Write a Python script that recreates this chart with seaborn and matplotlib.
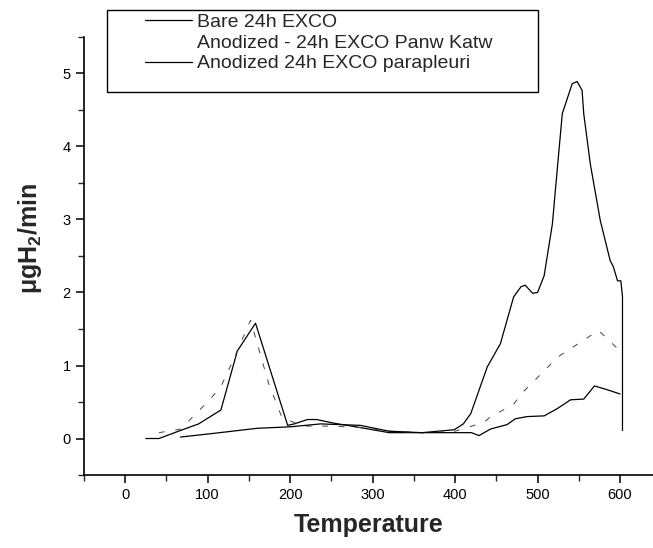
# thermal desorption curves: hydrogen release vs temperature for EXCO samples

import matplotlib.pyplot as plt
import seaborn as sns
from matplotlib.lines import Line2D
from matplotlib.patches import Rectangle
from matplotlib.ticker import MultipleLocator

# series labels
labels = ["Bare 24h EXCO",
          "Anodized - 24h EXCO Panw Katw",
          "Anodized 24h EXCO parapleuri"]

# Bare 24h EXCO (solid, big peak near 550)
bare_t = [25, 41, 67, 89, 116, 136, 158, 197, 205, 221, 232, 253, 285, 320, 360, 399,
          410, 419, 439, 455, 471, 480, 485, 494, 500, 508, 518, 526, 530, 542, 548,
          554, 556, 564, 576, 588, 592, 597, 601, 603, 603]
bare_v = [0.0, 0.0, 0.11, 0.2, 0.39, 1.2, 1.58, 0.18, 0.2, 0.26, 0.26, 0.21, 0.15, 0.08,
          0.08, 0.12, 0.2, 0.34, 0.98, 1.3, 1.94, 2.08, 2.1, 1.99, 2.0, 2.23, 2.94, 3.95,
          4.45, 4.86, 4.89, 4.77, 4.45, 3.76, 2.99, 2.44, 2.35, 2.16, 2.16, 1.94, 0.11]

# Anodized - Panw Katw (faint, broken line)
panw_t = [41, 68, 83, 100, 116, 130, 152, 174, 190, 215, 250, 285, 320, 360, 400, 435,
          442, 471, 481, 525, 574, 600]
panw_v = [0.08, 0.13, 0.31, 0.5, 0.71, 1.05, 1.62, 0.75, 0.29, 0.17, 0.17, 0.15, 0.1,
          0.08, 0.1, 0.22, 0.29, 0.47, 0.62, 1.12, 1.48, 1.2]

# Anodized parapleuri (solid, low curve)
para_t = [67, 107, 160, 200, 237, 285, 320, 360, 400, 420, 429, 443, 463, 473, 487, 508,
          524, 540, 556, 569, 584, 600]
para_v = [0.02, 0.07, 0.14, 0.16, 0.2, 0.18, 0.1, 0.08, 0.08, 0.08, 0.04, 0.13, 0.19,
          0.27, 0.3, 0.31, 0.41, 0.53, 0.54, 0.72, 0.67, 0.61]

sns.set_style("ticks")
plt.rcParams['font.family'] = ['Liberation Sans', 'DejaVu Sans']
plt.rcParams['mathtext.fontset'] = 'custom'
plt.rcParams['mathtext.rm'] = 'Liberation Sans:bold'
plt.rcParams['mathtext.default'] = 'rm'

fig = plt.figure(figsize=(6.53, 5.48), dpi=100)
ax = fig.add_axes([0.1286, 0.1332, 0.8714, 0.7993])

sns.lineplot(x=bare_t, y=bare_v, sort=False, estimator=None, color="black", lw=0.9, ax=ax)
sns.lineplot(x=panw_t, y=panw_v, sort=False, estimator=None, color="#444444", lw=0.7, ax=ax)
ax.lines[-1].set_linestyle((0, (6, 11)))
sns.lineplot(x=para_t, y=para_v, sort=False, estimator=None, color="black", lw=0.9, ax=ax)

ax.set_xlim(-50, 640)
ax.set_ylim(-0.5, 5.5)
ax.xaxis.set_minor_locator(MultipleLocator(50))
ax.yaxis.set_minor_locator(MultipleLocator(0.5))
ax.set_xticks(range(0, 601, 100))
ax.set_yticks(range(0, 6))
ax.tick_params(which="major", direction="out", length=6, width=1.1, labelsize=10.5, colors="black")
ax.tick_params(which="minor", direction="out", length=4, width=1.0)

for s in ["top", "right"]:
    ax.spines[s].set_visible(False)
for s in ["left", "bottom"]:
    ax.spines[s].set_linewidth(1.2)
    ax.spines[s].set_color("black")

ax.set_xlabel("Temperature", fontsize=18, fontweight="bold", labelpad=8)
ax.set_ylabel("μgH$_2$/min", fontsize=18, fontweight="bold")
ax.yaxis.set_label_coords(-0.07, 0.54)

# legend with its own frame
handles = [Line2D([], [], color="black", lw=0.9),
           Line2D([], [], color="none"),
           Line2D([], [], color="black", lw=0.9)]
fig.legend(handles, labels, loc="upper left", bbox_to_anchor=(145 / 653, 1 - 13 / 548),
           frameon=False, fontsize=14, handlelength=2.4, handletextpad=0.25,
           labelspacing=0.17, borderpad=0, borderaxespad=0)
fig.patches.append(Rectangle((107 / 653, 1 - 92 / 548), 431 / 653, 82 / 548,
                             transform=fig.transFigure, fill=False, edgecolor="black", lw=1.0))

plt.savefig("out.png", dpi=100)
